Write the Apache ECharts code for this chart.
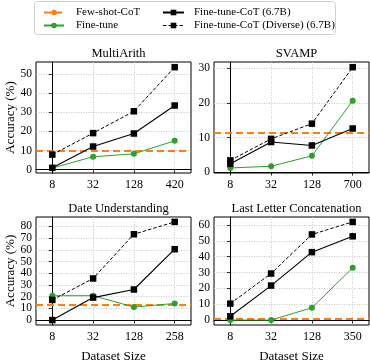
<!DOCTYPE html>
<html>
<head>
<meta charset="utf-8">
<script src="https://cdn.jsdelivr.net/npm/echarts@6/dist/echarts.min.js"></script>
<style>
  html, body { margin: 0; padding: 0; background: #fff; }
  #chart { width: 370px; height: 364px; }
</style>
</head>
<body>
<div id="chart"></div>
<script>
// panels, left to right, top to bottom
var titles = ['MultiArith', 'SVAMP', 'Date Understanding', 'Last Letter Concatenation'];
var sizes = [
    ['8', '32', '128', '420'],
    ['8', '32', '128', '700'],
    ['8', '32', '128', '258'],
    ['8', '32', '128', '350']
];
var yTicks = [
    [0, 10, 20, 30, 40, 50],
    [0, 10, 20, 30],
    [0, 10, 20, 30, 40, 50, 60, 70, 80],
    [0, 10, 20, 30, 40, 50, 60]
];
var yRange = [[-1.7, 56.2], [-0.25, 31.8], [-4.2, 88.0], [-3.1, 65.1]];

var fewShot = [10.0, 11.3, 13.0, 0.7];
var fineTune = [
    [0.9, 6.8, 8.3, 15.1],
    [1.2, 1.7, 4.7, 20.6],
    [20.8, 20.8, 11.1, 14.2],
    [0.0, 0.0, 7.8, 33.0]
];
var fineTuneCot = [
    [1.0, 12.1, 18.9, 33.5],
    [2.4, 8.7, 7.7, 12.6],
    [0.0, 19.2, 26.1, 60.5],
    [2.4, 21.8, 42.9, 52.9]
];
var fineTuneCotDiverse = [
    [7.9, 19.1, 30.5, 53.5],
    [3.4, 9.6, 14.0, 30.3],
    [17.2, 35.5, 73.3, 83.8],
    [10.4, 29.4, 54.1, 62.0]
];

var FONT = 'Liberation Serif';
var ORANGE = '#ff7f0e', GREEN = '#2ca02c';
var GRIDLINE = {color: '#bdbdbd', width: 0.8, type: [1, 1.5]};

var grids = [
    {left: 36, top: 62, width: 155, height: 111},
    {left: 214, top: 62, width: 155, height: 111},
    {left: 36, top: 217, width: 155, height: 111},
    {left: 214, top: 217, width: 155, height: 111}
];

function pts(arr) {
    return arr.map(function (v, i) { return [i, v]; });
}

function yLabel(values) {
    return {customValues: values, interval: 0, margin: 4, fontFamily: FONT, fontSize: 11.5, color: '#000',
        showMinLabel: true, showMaxLabel: true, hideOverlap: false};
}

var option = {
    animation: false,
    backgroundColor: '#fff',
    textStyle: {fontFamily: FONT, color: '#000'},
    title: [],
    grid: [],
    xAxis: [],
    yAxis: [],
    series: [],
    legend: [{
        orient: 'vertical', left: 38, top: 2, itemWidth: 20, itemHeight: 7, itemGap: 2,
        textStyle: {fontFamily: FONT, fontSize: 11, color: '#000', padding: [0, 0, 0, 7]},
        data: [
            {name: 'Few-shot-CoT', lineStyle: {color: ORANGE, width: 2, type: [7, 4]}},
            'Fine-tune'
        ]
    }, {
        orient: 'vertical', left: 157, top: 2, itemWidth: 21, itemHeight: 7, itemGap: 2,
        textStyle: {fontFamily: FONT, fontSize: 11, color: '#000', padding: [0, 0, 0, 5]},
        data: [
            'Fine-tune-CoT (6.7B)',
            {name: 'Fine-tune-CoT (Diverse) (6.7B)', lineStyle: {color: '#000', width: 1, type: [3.5, 2]}}
        ]
    }],
    graphic: [{
        type: 'rect', left: 34, top: 1, z: -1,
        shape: {width: 301, height: 33, r: 3},
        style: {fill: '#fff', stroke: '#d0d0d0', lineWidth: 1}
    }]
};

var oddLabels = [];

for (var p = 0; p < 4; p++) {
    var g = grids[p];
    option.grid.push({
        left: g.left, top: g.top, width: g.width, height: g.height,
        show: true, borderColor: '#000', borderWidth: 1, backgroundColor: '#fff'
    });
    option.title.push({
        text: titles[p], left: g.left + g.width / 2, top: g.top - 20, textAlign: 'center',
        textStyle: {fontFamily: FONT, fontSize: 12.5, fontWeight: 'normal', color: '#000'}
    });
    (function (lab) {
        option.xAxis.push({
            gridIndex: p, type: 'value', min: -0.4, max: 3.4,
            name: p >= 2 ? 'Dataset Size' : '', nameLocation: 'middle', nameGap: 25,
            nameTextStyle: {fontFamily: FONT, fontSize: 13, color: '#000'},
            axisLine: {show: true, lineStyle: {color: '#000', width: 1}},
            axisTick: {show: true, length: 3.5, customValues: [0, 1, 2, 3], lineStyle: {color: '#000', width: 0.8}},
            axisLabel: {customValues: [0, 1, 2, 3], interval: 0, margin: 6, fontFamily: FONT, fontSize: 12, color: '#000',
                formatter: function (v) { return lab[Math.round(v)]; }},
            splitLine: {show: true, lineStyle: GRIDLINE}
        });
    })(sizes[p]);

    // tight tick sets: every other label goes on a second axis so none get dropped
    var even = yTicks[p].filter(function (v, i) { return i % 2 === 0; });
    oddLabels.push(yTicks[p].filter(function (v, i) { return i % 2 === 1; }));
    option.yAxis.push({
        gridIndex: p, type: 'value', min: yRange[p][0], max: yRange[p][1],
        name: p % 2 === 0 ? 'Accuracy (%)' : '', nameLocation: 'middle', nameGap: 18,
        nameTextStyle: {fontFamily: FONT, fontSize: 13, color: '#000'},
        axisLine: {show: true, lineStyle: {color: '#000', width: 1}},
        axisTick: {show: true, length: 3.5, customValues: yTicks[p], lineStyle: {color: '#000', width: 0.8}},
        axisLabel: yLabel(even),
        splitLine: {show: true, lineStyle: GRIDLINE}
    });

    option.series.push({
        name: 'Few-shot-CoT', type: 'line', xAxisIndex: p, yAxisIndex: p, data: [],
        symbol: 'none', z: 5,
        itemStyle: {color: ORANGE},
        lineStyle: {color: ORANGE, width: 2, type: [7, 4]},
        markLine: {
            silent: true, symbol: 'none', label: {show: false},
            lineStyle: {color: ORANGE, width: 2, type: [7, 4]},
            data: [{yAxis: fewShot[p]}]
        }
    });
    option.series.push({
        name: 'Fine-tune', type: 'line', xAxisIndex: p, yAxisIndex: p, data: pts(fineTune[p]),
        symbol: 'circle', symbolSize: 6, z: 6,
        itemStyle: {color: GREEN},
        lineStyle: {color: GREEN, width: 1}
    });
    option.series.push({
        name: 'Fine-tune-CoT (6.7B)', type: 'line', xAxisIndex: p, yAxisIndex: p, data: pts(fineTuneCot[p]),
        symbol: 'rect', symbolSize: 6.5, z: 7,
        itemStyle: {color: '#000'},
        lineStyle: {color: '#000', width: 1.1}
    });
    option.series.push({
        name: 'Fine-tune-CoT (Diverse) (6.7B)', type: 'line', xAxisIndex: p, yAxisIndex: p, data: pts(fineTuneCotDiverse[p]),
        symbol: 'rect', symbolSize: 6.5, z: 7,
        itemStyle: {color: '#000'},
        lineStyle: {color: '#000', width: 1, type: [3.5, 2]}
    });
}

// label-only y axes, one per panel
for (var q = 0; q < 4; q++) {
    option.yAxis.push({
        gridIndex: q, type: 'value', min: yRange[q][0], max: yRange[q][1], position: 'left', offset: 0,
        axisLine: {show: false}, axisTick: {show: false}, splitLine: {show: false},
        axisLabel: yLabel(oddLabels[q])
    });
}

var chart = echarts.init(document.getElementById('chart'), null, {renderer: 'canvas'});
chart.setOption(option);
</script>
</body>
</html>
